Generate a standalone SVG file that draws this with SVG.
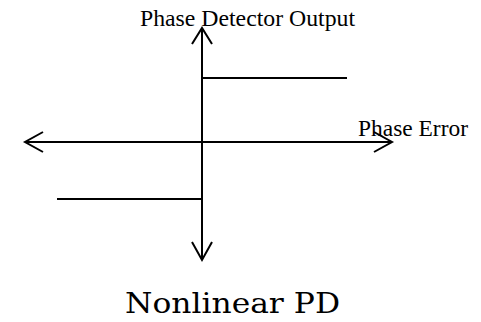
<svg xmlns="http://www.w3.org/2000/svg" width="481" height="322" viewBox="0 0 481 322">
<style>
.ln{stroke:#000;stroke-width:2;fill:none}
.lbl{font-family:"Liberation Serif","Times New Roman",serif;font-size:23.5px;fill:#000}
.title{font-family:"DejaVu Serif","Liberation Serif",serif;font-size:28px;fill:#000}
</style>
<rect width="481" height="322" fill="#fff"/>
<g id="connectors">
<line class="ln" x1="202" y1="28" x2="202" y2="260"/>
<polyline class="ln" points="192,44 202,28 212,44"/>
<polyline class="ln" points="192,242 202,260 212,242"/>
<line class="ln" x1="25" y1="142" x2="392" y2="142"/>
<polyline class="ln" points="43,132 25,142 43,152"/>
<polyline class="ln" points="374,132 392,142 374,152"/>
</g>
<g id="curve">
<line class="ln" x1="202" y1="78" x2="347" y2="78"/>
<line class="ln" x1="57" y1="199" x2="202" y2="199"/>
</g>
<g id="label-y"><text class="lbl" x="140" y="26" textLength="215" lengthAdjust="spacingAndGlyphs">Phase Detector Output</text></g>
<g id="label-x"><text class="lbl" x="358" y="136" textLength="110" lengthAdjust="spacingAndGlyphs">Phase Error</text></g>
<g id="title"><text class="title" x="125" y="313" textLength="215" lengthAdjust="spacingAndGlyphs">Nonlinear PD</text></g>
</svg>
